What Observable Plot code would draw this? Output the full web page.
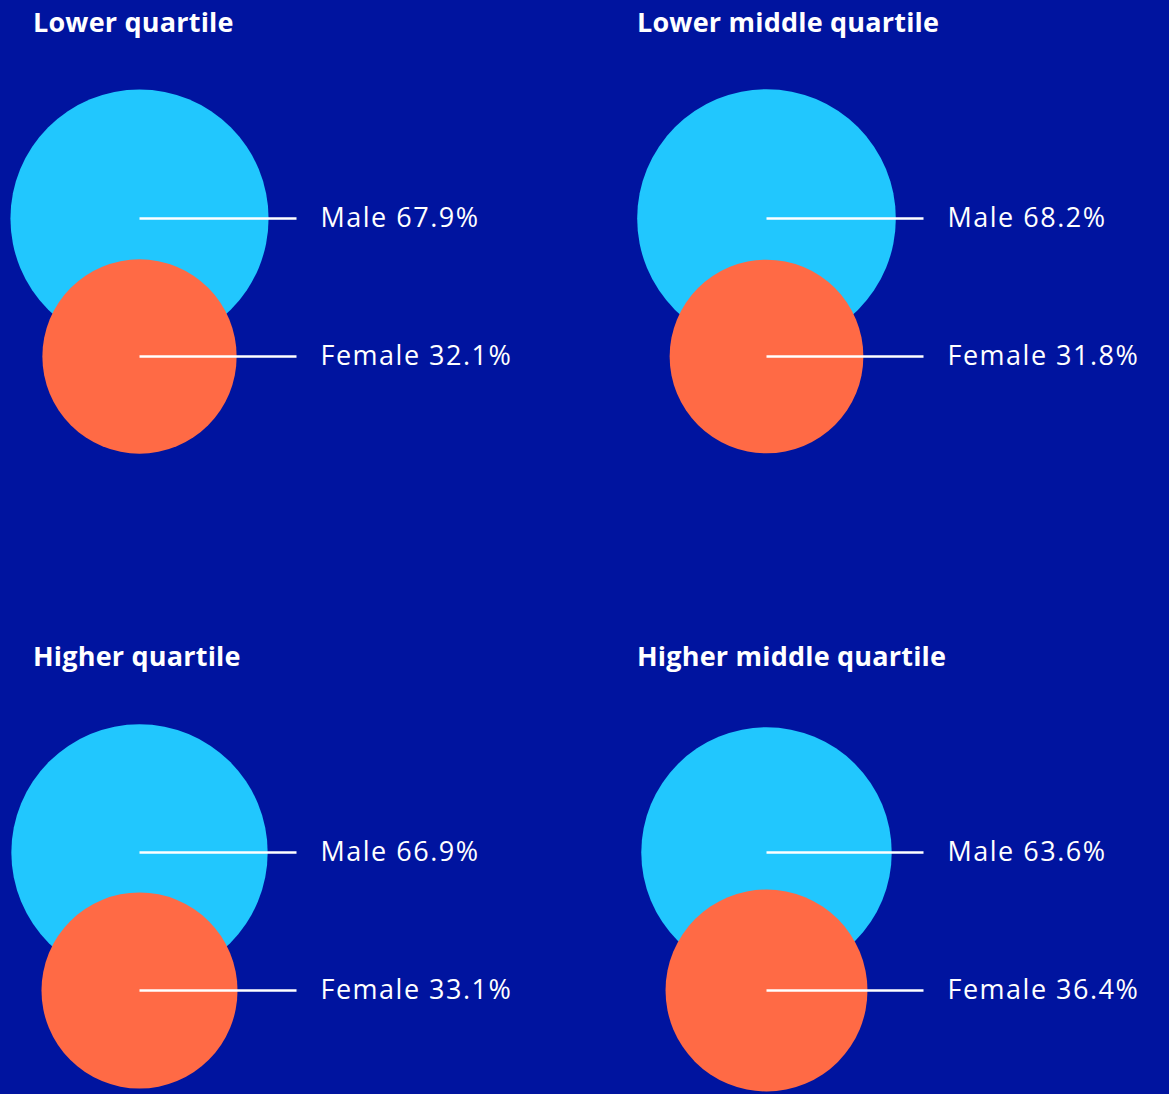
<!DOCTYPE html>
<html>
<head>
<meta charset="utf-8">
<script src="https://cdn.jsdelivr.net/npm/d3@7"></script>
<script src="https://cdn.jsdelivr.net/npm/@observablehq/plot@0.6"></script>
<style>
  html, body { margin: 0; padding: 0; }
  body {
    width: 1169px; height: 1094px; overflow: hidden; position: relative;
    background: #00149F; font-family: "Open Sans", Lato, sans-serif; color: #fff;
  }
  .panel { position: absolute; width: 540px; height: 460px; }
  .panel svg { display: block; }
  .panel text { letter-spacing: 1.5px; }
  .title {
    position: absolute; font-weight: 700; font-size: 27px; line-height: 1;
    white-space: nowrap; color: #fff; letter-spacing: 0.2px;
  }
</style>
</head>
<body>
<script>
// ---- data ----
const quartiles = ["Lower quartile", "Lower middle quartile", "Higher quartile", "Higher middle quartile"];
const genders = ["Male", "Female"];
const maleShare = [67.9, 68.2, 66.9, 63.6];
const femaleShare = [32.1, 31.8, 33.1, 36.4];

// ---- layout (not data) ----
const colLeft = [0, 627];
const rowTop = [0, 634];
const titleLeft = [33, 637];
const colors = ["#21C7FE", "#FF6A45"];

quartiles.forEach((q, i) => {
  const col = i % 2, row = Math.floor(i / 2);
  const rows = genders.map((g, k) => ({
    quartile: q,
    gender: g,
    value: k === 0 ? maleShare[i] : femaleShare[i]
  }));

  const panel = document.createElement("div");
  panel.className = "panel";
  panel.style.left = colLeft[col] + "px";
  panel.style.top = rowTop[row] + "px";

  const chart = Plot.plot({
    width: 540,
    height: 460,
    margin: 0,
    style: { background: "transparent", fontFamily: "'Open Sans', Lato, sans-serif", overflow: "visible" },
    x: { type: "point", domain: ["circle", "label"], range: [139, 296], padding: 0, axis: null },
    y: { type: "point", domain: genders, range: [218, 356], padding: 0, axis: null },
    r: { type: "linear", domain: [0, 100], range: [68.5, 157.7] },
    color: { domain: genders, range: colors },
    marks: [
      Plot.dot(rows, { x: () => "circle", y: "gender", r: "value", fill: "gender", stroke: null }),
      Plot.link(rows, {
        x1: () => "circle", x2: () => "label", y1: "gender", y2: "gender",
        stroke: "#ffffff", strokeWidth: 2.5
      }),
      Plot.text(rows, {
        x: () => "label", y: "gender",
        text: d => `${d.gender} ${d.value.toFixed(1)}%`,
        dx: 24, textAnchor: "start", lineAnchor: "middle",
        fill: "#ffffff", fontSize: 27
      })
    ]
  });
  panel.appendChild(chart);
  document.body.appendChild(panel);

  const t = document.createElement("div");
  t.className = "title";
  t.textContent = q;
  t.style.left = titleLeft[col] + "px";
  t.style.top = (rowTop[row] + 8) + "px";
  document.body.appendChild(t);
});
</script>
</body>
</html>
